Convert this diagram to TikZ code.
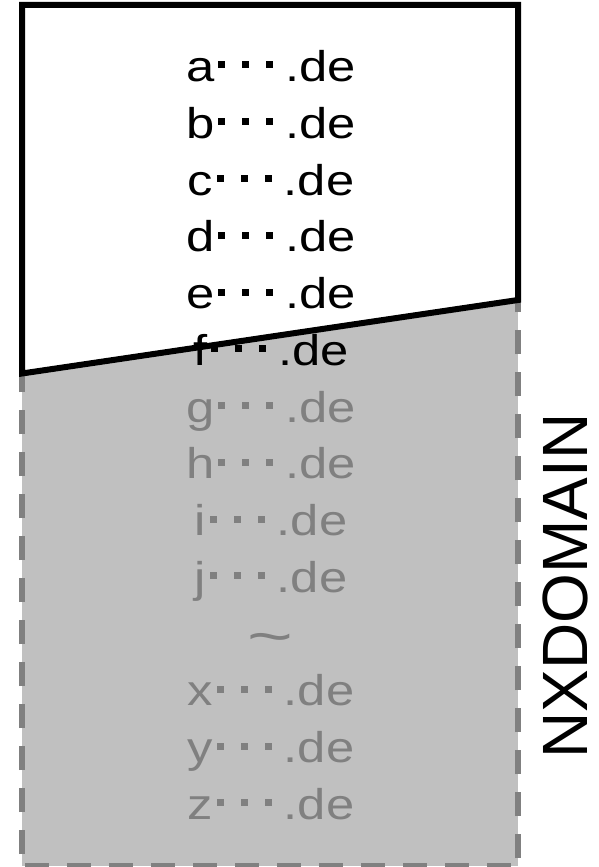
\documentclass[tikz,border=0pt]{standalone}
\usepackage{fontspec}
\setmainfont{Liberation Sans}
\newfontfamily\domfont[FakeStretch=1.18]{Liberation Sans}
\definecolor{fillgray}{HTML}{C0C0C0}
\definecolor{linegray}{HTML}{808080}
\newcommand{\sqdot}{\rule[13.2pt]{7pt}{7pt}}
\newcommand{\dotrow}{\kern4.1pt\sqdot\kern17pt\sqdot\kern17pt\sqdot\kern11.8pt}
\tikzset{
  domlabel/.style={anchor=base, inner sep=0pt, font=\domfont\fontsize{43}{43}\selectfont},
  livename/.style={domlabel, text=black},
  deadname/.style={domlabel, text=linegray},
  dashedge/.style={draw=linegray, line width=6pt, dash pattern=on 24pt off 18pt},
}
\begin{document}
\begin{tikzpicture}[x=1pt,y=-1pt]
\useasboundingbox (0,0) rectangle (598,867);
% gray NXDOMAIN region
\fill[fillgray] (22,5) rectangle (518,866);
\coordinate (bl) at (22,866);
\coordinate (br) at (518,866);
\coordinate (tl) at (22,5);
\coordinate (tr) at (518,5);
\draw[dashedge, dash phase=30pt] (bl) -- (tl);
\draw[dashedge, dash phase=34pt] (br) -- (tr);
\draw[dashedge, dash phase=39pt] (bl) -- (br);
% white resolved region
\coordinate (wtl) at (22,5);
\coordinate (wtr) at (518,5);
\coordinate (wbr) at (518,300);
\coordinate (wbl) at (22,373.5);
\filldraw[fill=white, draw=black, line width=6pt] (wtl) -- (wtr) -- (wbr) -- (wbl) -- cycle;
% domain names
\node[livename] (a) at (271,81.7) {a\dotrow.de};
\node[livename] (b) at (271,138.45) {b\dotrow.de};
\node[livename] (c) at (271,195.2) {c\dotrow.de};
\node[livename] (d) at (271,251.95) {d\dotrow.de};
\node[livename] (e) at (271,308.7) {e\dotrow.de};
\node[livename] (f) at (271,365.45) {f\dotrow.de};
\node[deadname] (g) at (271,422.2) {g\dotrow.de};
\node[deadname] (h) at (271,478.95) {h\dotrow.de};
\node[deadname] (i) at (271,535.7) {i\dotrow.de};
\node[deadname] (j) at (271,592.45) {j\dotrow.de};
\node[anchor=base, inner sep=0pt, text=linegray, font=\fontsize{56}{56}\selectfont] (tilde) at (270,655.5) {\scalebox{1.4}[1]{\textasciitilde}};
\node[deadname] (x) at (271,705.95) {x\dotrow.de};
\node[deadname] (y) at (271,762.7) {y\dotrow.de};
\node[deadname] (z) at (271,819.45) {z\dotrow.de};
% label
\node[rotate=90, inner sep=0pt, font=\fontsize{64}{64}\selectfont] (nx) at (565,586) {NXDOMAIN};
\end{tikzpicture}
\end{document}
